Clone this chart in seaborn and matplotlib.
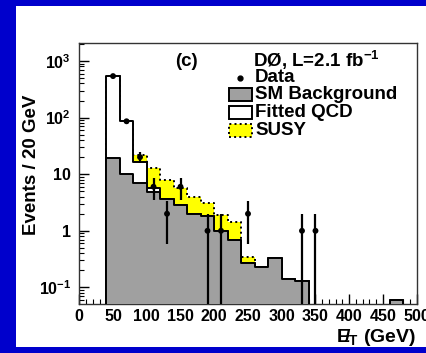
import numpy as np
import pandas as pd
import matplotlib
matplotlib.use("Agg")
import matplotlib.pyplot as plt
import seaborn as sns
from matplotlib.patches import Rectangle
from matplotlib.ticker import MultipleLocator, LogLocator, NullFormatter

# ---------------- data ----------------
bin_edges = list(range(40, 501, 20))
sm_background = [19.7, 10.2, 7.0, 4.8, 3.7, 2.8, 2.0, 1.85, 1.0, 0.69, 0.27, 0.226,
                 0.325, 0.139, 0.131, 0, 0, 0, 0, 0, 0, 0.059, 0]
fitted_qcd = [520, 76, 9.5, 1.0, 0, 0, 0, 0, 0, 0, 0, 0,
              0, 0, 0, 0, 0, 0, 0, 0, 0, 0, 0]
susy = [0, 0, 5.0, 7.3, 4.1, 3.0, 2.0, 1.25, 0.9, 0.76, 0.075, 0,
        0, 0, 0, 0, 0, 0, 0, 0, 0, 0, 0]
data_x = [50, 70, 90, 110, 130, 150, 190, 210, 250, 330, 350]
data_y = [540, 86, 20, 6, 2, 6, 1, 1, 2, 1, 1]
x_ticks = [0, 50, 100, 150, 200, 250, 300, 350, 400, 450, 500]
y_ticks = [0.1, 1, 10, 100, 1000]
y_tick_labels = [r"$10^{-1}$", "1", "10", r"$10^{2}$", r"$10^{3}$"]
legend_labels = ["Data", "SM Background", "Fitted QCD", "SUSY"]

# ---------------- style ----------------
sns.set_style("ticks")
plt.rcParams["font.family"] = ["Liberation Sans", "DejaVu Sans"]
plt.rcParams["font.weight"] = "bold"
plt.rcParams["text.color"] = "black"
plt.rcParams["axes.labelcolor"] = "black"
plt.rcParams["xtick.color"] = "black"
plt.rcParams["ytick.color"] = "black"
plt.rcParams["mathtext.fontset"] = "custom"
plt.rcParams["mathtext.rm"] = "Liberation Sans:bold"
plt.rcParams["mathtext.bf"] = "Liberation Sans:bold"
plt.rcParams["mathtext.it"] = "Liberation Sans:bold:italic"
plt.rcParams["mathtext.default"] = "bf"

W, H = 427, 353
fig = plt.figure(figsize=(W / 100, H / 100), dpi=100, facecolor="#0000cc")
fig.patches.append(Rectangle((16 / W, 6 / H), 1.0, 341 / H, transform=fig.transFigure,
                             facecolor="white", edgecolor="none", zorder=-5))
ax = fig.add_axes([79.3 / W, (H - 303.5) / H, 337.4 / W, 260.8 / H])
ax.set_facecolor("white")

edges = np.array(bin_edges, dtype=float)
centers = (edges[:-1] + edges[1:]) / 2
sm = np.array(sm_background)
tot = sm + np.array(fitted_qcd)
top = tot + np.array(susy)
df = pd.DataFrame({"center": centers, "sm": sm, "tot": tot, "top": top})

lw = 1.4
sns.histplot(data=df, x="center", weights="top", bins=bin_edges, element="step",
             fill=True, color="#ffff00", edgecolor="black", linestyle=":",
             linewidth=lw, alpha=1, ax=ax, zorder=1)
sns.histplot(data=df, x="center", weights="tot", bins=bin_edges, element="step",
             fill=True, color="white", edgecolor="black", linewidth=lw, alpha=1,
             ax=ax, zorder=2)
sns.histplot(data=df, x="center", weights="sm", bins=bin_edges, element="step",
             fill=True, color="#a0a0a0", edgecolor="black", linewidth=lw, alpha=1,
             ax=ax, zorder=3)

dy = np.sqrt(np.array(data_y, dtype=float))
lower = np.minimum(dy, np.array(data_y) * 0.99999)
ax.errorbar(data_x, data_y, yerr=[lower, dy], fmt="none", ecolor="black",
            elinewidth=1.6, capsize=0, zorder=5)
sns.scatterplot(x=data_x, y=data_y, color="black", s=18, edgecolor="none",
                ax=ax, zorder=6)

ax.set_yscale("log")
ax.set_xlim(0, 500)
ax.set_ylim(0.052, 2100)
ax.set_xticks(x_ticks)
ax.set_xticklabels([str(t) for t in x_ticks])
ax.xaxis.set_minor_locator(MultipleLocator(10))
ax.set_yticks(y_ticks)
ax.set_yticklabels(y_tick_labels)
ax.yaxis.set_minor_locator(LogLocator(base=10, subs=np.arange(2, 10)))
ax.yaxis.set_minor_formatter(NullFormatter())
ax.tick_params(which="both", direction="in", top=False, right=False,
               labelsize=11.5, colors="black")
ax.tick_params(which="major", length=7, width=1)
ax.tick_params(which="minor", length=3.5, width=0.8)
ax.tick_params(axis="x", pad=4)
ax.tick_params(axis="y", pad=6)
for s in ax.spines.values():
    s.set_visible(True)
    s.set_color("#333333")
    s.set_linewidth(1.0)
ax.set_xlabel("")
ax.set_ylabel("Events / 20 GeV", fontsize=13.5, fontweight="bold", va="center",
              color="black")
ax.yaxis.set_label_coords((32 - 79.3) / 337.4, (303.5 - 164.5) / 260.8)

# x label (slashed E_T)
fig.text(416 / W, (H - 337) / H, r"$/\!\!\!\!\!E_{T}$ (GeV)", ha="right", va="center",
         fontsize=14, fontweight="bold", color="black")

# annotations & legend (figure pixel positions)
def fx(x):
    return x / W

def fy(y):
    return (H - y) / H

fs = 13.5
fig.text(fx(186), fy(62), "(c)", ha="center", va="center", fontsize=fs,
         fontweight="bold", color="black")
fig.text(fx(253), fy(60), r"DØ, L=2.1 fb$^{-1}$", ha="left", va="center",
         fontsize=fs, fontweight="bold", color="black")
rows_y = [78, 94.5, 112.5, 130.5]
px0, px1, ph = 229, 252, 12
fig.lines.append(plt.Line2D([fx((px0 + px1) / 2)], [fy(rows_y[0])], marker="o", ms=3.5,
                            color="black", transform=fig.transFigure))
styles = [("#a0a0a0", "-"), ("white", "-"), ("#ffff00", ":")]
for yy, (fc, ls) in zip(rows_y[1:], styles):
    fig.patches.append(Rectangle((fx(px0), fy(yy + ph / 2)), (px1 - px0) / W, ph / H,
                                 transform=fig.transFigure, facecolor=fc,
                                 edgecolor="black", linestyle=ls, linewidth=lw, zorder=3))
for yy, lab in zip(rows_y, legend_labels):
    fig.text(fx(255), fy(yy), lab, ha="left", va="center", fontsize=fs,
             fontweight="bold", color="black")

fig.savefig("out.png", dpi=100, facecolor=fig.get_facecolor())
